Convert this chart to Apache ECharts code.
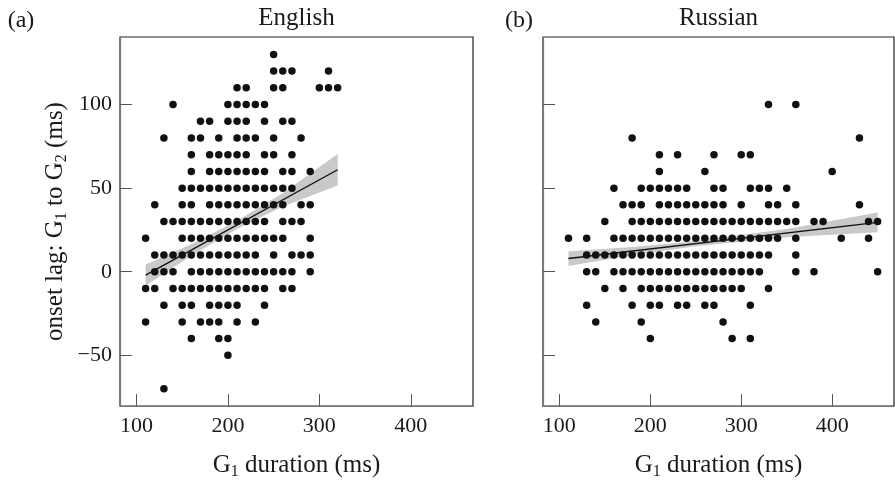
<!DOCTYPE html>
<html>
<head>
<meta charset="utf-8">
<script src="https://cdn.jsdelivr.net/npm/echarts@6/dist/echarts.min.js"></script>
<style>
  html, body { margin: 0; padding: 0; background: #fff; }
  #chart { width: 895px; height: 485px; }
</style>
</head>
<body>
<div id="chart"></div>
<script>
// 刻度
const xTicks = [100, 200, 300, 400];
const yTicks = [-50, 0, 50, 100];

// English: 每行的 onset lag 值，及该行上各点的 G1 时长
const engRowY = [130, 120, 110, 100, 90, 80, 70, 60, 50, 40, 30, 20, 10, 0, -10, -20, -30, -40, -50, -70];
const engRowX = [
  [250],
  [250, 260, 270, 310],
  [210, 220, 250, 260, 300, 310, 320],
  [140, 200, 210, 220, 230, 240],
  [170, 180, 200, 210, 220, 240, 260, 270],
  [130, 160, 170, 190, 210, 220, 230, 250, 280],
  [160, 180, 190, 200, 210, 220, 240, 250, 270],
  [160, 180, 190, 200, 210, 220, 230, 240, 260, 270, 290],
  [150, 160, 170, 180, 190, 200, 210, 220, 230, 240, 250, 260, 270],
  [120, 150, 160, 180, 190, 200, 210, 220, 230, 240, 250, 260, 280, 290],
  [130, 140, 150, 160, 170, 180, 190, 200, 210, 220, 230, 240, 260, 270, 280],
  [110, 150, 160, 170, 180, 190, 200, 210, 220, 230, 240, 250, 260, 290],
  [120, 130, 140, 150, 160, 170, 180, 190, 200, 210, 220, 230, 250, 270, 280, 290],
  [120, 130, 140, 160, 170, 180, 190, 200, 210, 220, 230, 240, 250, 260, 270, 290],
  [110, 120, 140, 150, 160, 170, 180, 190, 200, 210, 220, 230, 240, 260, 270],
  [130, 150, 160, 180, 190, 200, 210, 240],
  [110, 150, 170, 180, 190, 210, 230],
  [160, 190, 200],
  [200],
  [130]
];

// Russian
const rusRowY = [100, 80, 70, 60, 50, 40, 30, 20, 10, 0, -10, -20, -30, -40];
const rusRowX = [
  [330, 360],
  [180, 430],
  [210, 230, 270, 300, 310],
  [210, 260, 400],
  [160, 190, 200, 210, 220, 230, 240, 270, 280, 310, 320, 330, 350],
  [170, 180, 190, 210, 220, 230, 240, 250, 260, 270, 280, 300, 330, 340, 360, 430],
  [150, 180, 190, 200, 210, 220, 230, 240, 250, 260, 270, 280, 290, 300, 310, 320, 330, 340, 350, 360, 380, 390, 440, 450],
  [110, 130, 160, 170, 180, 190, 200, 210, 220, 230, 240, 250, 260, 270, 280, 290, 300, 310, 320, 330, 340, 360, 410, 440],
  [130, 140, 150, 160, 170, 180, 190, 200, 210, 220, 230, 240, 250, 260, 270, 280, 290, 300, 310, 320, 330, 360],
  [130, 140, 160, 170, 180, 190, 200, 210, 220, 230, 240, 250, 260, 270, 280, 290, 300, 310, 320, 360, 380, 450],
  [150, 170, 190, 200, 210, 220, 230, 240, 250, 260, 270, 280, 290, 300, 330],
  [130, 180, 200, 210, 230, 240, 260, 270, 310],
  [140, 190, 280],
  [200, 290, 310]
];

// 回归线及置信带
const engFitX = [110, 320];
const engFitY = [-2, 61];
const engBandX = [110, 160, 210, 260, 320];
const engBandLo = [-8.4, 9.5, 25.5, 39, 51.6];
const engBandHi = [4.4, 16.5, 30.5, 47, 70.4];

const rusFitX = [110, 450];
const rusFitY = [7.9, 29.5];
const rusBandX = [110, 180, 250, 350, 450];
const rusBandLo = [3.4, 9.8, 15.2, 20.6, 23.6];
const rusBandHi = [12.2, 14.8, 18.4, 25.6, 35.4];

const FONT = '"Liberation Serif", "DejaVu Serif", serif';
const INK = '#1a1a1a';

function toPoints(rowY, rowX) {
  const pts = [];
  rowY.forEach((y, i) => rowX[i].forEach(x => pts.push([x, y])));
  return pts;
}

function bandSeries(idx, bx, lo, hi) {
  return {
    type: 'custom', xAxisIndex: idx, yAxisIndex: idx, z: 1, silent: true,
    data: [[bx[0], lo[0]]],
    renderItem: (params, api) => {
      const top = bx.map((x, i) => api.coord([x, hi[i]]));
      const bot = bx.map((x, i) => api.coord([x, lo[i]])).reverse();
      return { type: 'polygon', shape: { points: top.concat(bot) }, style: { fill: '#c9c9c9' } };
    }
  };
}

// 下标：用 padding 把数字往下压
const nameRich = {
  n: { fontFamily: FONT, fontSize: 25, color: INK, lineHeight: 30, verticalAlign: 'middle' },
  s: { fontFamily: FONT, fontSize: 16, color: INK, lineHeight: 30, verticalAlign: 'top', padding: [14, 0, 0, 0] }
};

// 负号用真正的减号
const fmtTick = v => String(v).replace('-', '\u2212');

function xAxisOf(idx) {
  return {
    type: 'value', gridIndex: idx, min: 82, max: 468,
    name: '{n|G}{s|1}{n| duration (ms)}', nameLocation: 'middle', nameGap: 44,
    nameTextStyle: { rich: nameRich },
    axisLine: { show: true, onZero: false, lineStyle: { color: '#7a7a7a', width: 1.2 } },
    axisTick: { show: true, inside: true, length: 12, customValues: xTicks, lineStyle: { color: '#555' } },
    axisLabel: { customValues: xTicks, fontFamily: FONT, fontSize: 22, color: INK, margin: 9 },
    splitLine: { show: false }
  };
}

function yAxisOf(idx, withName) {
  return {
    type: 'value', gridIndex: idx, min: -80.3, max: 140.4,
    name: withName ? '{n|onset lag: G}{s|1}{n| to G}{s|2}{n| (ms)}' : '',
    nameLocation: 'middle', nameGap: 50, nameRotate: 90,
    nameTextStyle: { rich: nameRich },
    axisLine: { show: true, onZero: false, lineStyle: { color: '#7a7a7a', width: 1.2 } },
    axisTick: { show: true, inside: true, length: 12, customValues: yTicks, lineStyle: { color: '#555' } },
    axisLabel: { show: withName, customValues: yTicks, formatter: fmtTick, fontFamily: FONT, fontSize: 22, color: INK, margin: 8 },
    splitLine: { show: false }
  };
}

function scatterOf(idx, data) {
  return {
    type: 'scatter', xAxisIndex: idx, yAxisIndex: idx, z: 2, silent: true,
    data, symbolSize: 7.5, itemStyle: { color: '#111', opacity: 1 }
  };
}

function fitOf(idx, fx, fy) {
  return {
    type: 'line', xAxisIndex: idx, yAxisIndex: idx, z: 3, silent: true,
    data: fx.map((x, i) => [x, fy[i]]), showSymbol: false,
    lineStyle: { color: '#111', width: 1.4 }
  };
}

function label(text, x, y, size) {
  return {
    type: 'text', x, y,
    style: { text, align: 'center', verticalAlign: 'middle', fontFamily: FONT, fontSize: size, fill: INK }
  };
}

const chart = echarts.init(document.getElementById('chart'));
chart.setOption({
  animation: false,
  backgroundColor: '#fff',
  grid: [
    { left: 120, top: 37, width: 353, height: 374, show: true, borderColor: '#222', borderWidth: 1.2 },
    { left: 543, top: 37, width: 351, height: 374, show: true, borderColor: '#222', borderWidth: 1.2 }
  ],
  xAxis: [xAxisOf(0), xAxisOf(1)],
  yAxis: [yAxisOf(0, true), yAxisOf(1, false)],
  graphic: [
    label('(a)', 21, 21, 24),
    label('(b)', 519, 21, 24),
    label('English', 296.5, 18, 25),
    label('Russian', 718.5, 18, 25)
  ],
  series: [
    bandSeries(0, engBandX, engBandLo, engBandHi),
    scatterOf(0, toPoints(engRowY, engRowX)),
    fitOf(0, engFitX, engFitY),
    bandSeries(1, rusBandX, rusBandLo, rusBandHi),
    scatterOf(1, toPoints(rusRowY, rusRowX)),
    fitOf(1, rusFitX, rusFitY)
  ]
});
</script>
</body>
</html>
